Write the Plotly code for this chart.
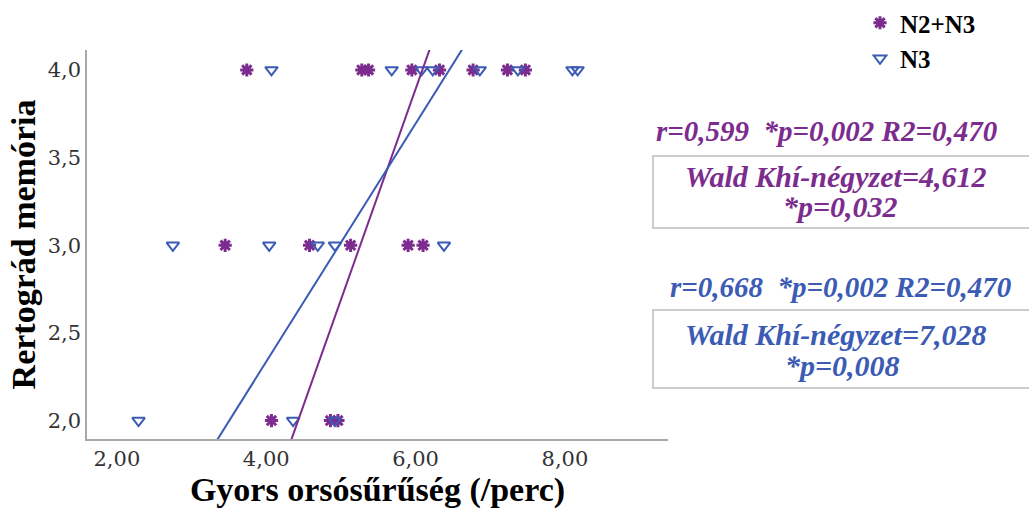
import numpy as np
import plotly.graph_objects as go

# ---- data ----
group_names = ["N2+N3", "N3"]

n2n3_x = [3.74, 5.28, 5.37, 5.95, 6.32, 6.77, 7.23, 7.47,
          3.45, 4.58, 5.13, 5.90, 6.10,
          4.07, 4.86, 4.96]
n2n3_y = [4.0, 4.0, 4.0, 4.0, 4.0, 4.0, 4.0, 4.0,
          3.0, 3.0, 3.0, 3.0, 3.0,
          2.0, 2.0, 2.0]

n3_x = [4.07, 5.68, 6.08, 6.23, 6.86, 7.37, 8.10, 8.17,
        2.75, 4.04, 4.69, 4.92, 6.38,
        2.29, 4.36, 4.92]
n3_y = [4.0, 4.0, 4.0, 4.0, 4.0, 4.0, 4.0, 4.0,
        3.0, 3.0, 3.0, 3.0, 3.0,
        2.0, 2.0, 2.0]

fit_slope = [1.202, 0.679]
fit_intercept = [-3.321, -0.380]

stat_lines = ["r=0,599  *p=0,002 R2=0,470", "r=0,668  *p=0,002 R2=0,470"]
wald_lines = ["Wald Khí-négyzet=4,612", "Wald Khí-négyzet=7,028"]
wald_p = ["*p=0,032", "*p=0,008"]

x_ticks = [2, 4, 6, 8]
y_ticks = [2.0, 2.5, 3.0, 3.5, 4.0]

# ---- styling ----
PURPLE = "#7B2C8E"
BLUE = "#3B5BB4"
W, H = 1029, 510
L, R, T, B = 87, 361, 50, 71
PW, PH = W - L - R, H - T - B
XR = [1.60, 9.38]
YR = [1.895, 4.114]


def px(x):
    return (x - L) / PW


def py(y):
    return (H - B - y) / PH


fig = go.Figure()
fig.add_trace(go.Scatter(
    x=n2n3_x, y=n2n3_y, mode="markers", name=group_names[0],
    marker=dict(symbol="asterisk-open", size=11, color=PURPLE,
                line=dict(color=PURPLE, width=3)),
))
fig.add_trace(go.Scatter(
    x=n3_x, y=n3_y, mode="markers", name=group_names[1],
    marker=dict(symbol="triangle-down-open", size=11, color=BLUE,
                line=dict(color=BLUE, width=2)),
))

xs = np.array(XR)
for slope, icpt, col in zip(fit_slope, fit_intercept, [PURPLE, BLUE]):
    fig.add_trace(go.Scatter(
        x=xs, y=icpt + slope * xs, mode="lines", showlegend=False,
        line=dict(color=col, width=2), hoverinfo="skip",
    ))

serif = "Liberation Serif"
tick_serif = "DejaVu Serif"

# stats text
stat_pos = [(826, 131), (840, 287)]
wald_pos = [(836, 176), (836, 334)]
p_pos = [(840, 206), (842, 365)]
box_y = [(156, 228), (310, 388)]
for i, col in enumerate([PURPLE, BLUE]):
    for txt, (ax_, ay_), sz in [(stat_lines[i], stat_pos[i], 29),
                                (wald_lines[i], wald_pos[i], 30),
                                (wald_p[i], p_pos[i], 30)]:
        fig.add_annotation(
            x=px(ax_), y=py(ay_), xref="paper", yref="paper",
            xanchor="center", yanchor="middle",
            text=txt, showarrow=False,
            font=dict(family=serif, size=sz, color=col, weight="bold", style="italic"),
        )
    fig.add_shape(
        type="rect", xref="paper", yref="paper",
        x0=px(653), x1=px(1040), y0=py(box_y[i][0]), y1=py(box_y[i][1]),
        line=dict(color="#BDBDBD", width=1.5), fillcolor="rgba(0,0,0,0)",
    )

fig.update_layout(
    width=W, height=H,
    margin=dict(l=L, r=R, t=T, b=B, autoexpand=False),
    paper_bgcolor="white", plot_bgcolor="white",
    separators=", ",
    showlegend=True,
    legend=dict(
        xref="container", yref="container", x=860 / W, y=1.0,
        xanchor="left", yanchor="top",
        font=dict(family=serif, size=25, color="black", weight="bold"),
        bgcolor="rgba(0,0,0,0)", tracegroupgap=0,
    ),
    xaxis=dict(
        range=XR, tickvals=x_ticks, tickformat=".2f",
        showgrid=False, zeroline=False, showline=True,
        linecolor="#A8A8A8", linewidth=1.5, ticks="",
        tickfont=dict(family=tick_serif, size=21, color="#333333"),
        title=dict(text="Gyors orsósűrűség (/perc)", standoff=4,
                   font=dict(family=serif, size=34, color="black", weight="bold")),
    ),
    yaxis=dict(
        range=YR, tickvals=y_ticks, tickformat=".1f",
        showgrid=False, zeroline=False, showline=True,
        linecolor="#A8A8A8", linewidth=1.5, ticks="",
        tickfont=dict(family=tick_serif, size=21, color="#333333"),
        title=dict(text="Rertográd memória", standoff=2,
                   font=dict(family=serif, size=34, color="black", weight="bold")),
    ),
)

fig.write_html(
    "out.html",
    config={"displayModeBar": False},
    post_script="document.body.style.margin='0';document.body.style.overflow='hidden';",
)
